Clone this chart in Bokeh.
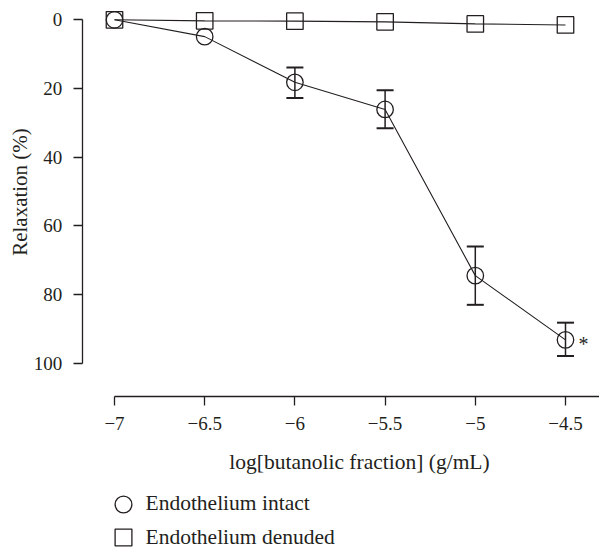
from bokeh.plotting import figure
from bokeh.models import (Range1d, FixedTicker, Whisker, TeeHead, ColumnDataSource,
                          Legend, LegendItem, Label)
from bokeh.core.properties import value
from bokeh.embed import file_html
from bokeh.resources import INLINE

# ---- data ----
log_conc = [-7.0, -6.5, -6.0, -5.5, -5.0, -4.5]
intact = [0.0, 4.9, 18.2, 26.1, 74.5, 93.2]
err_x = [-6.0, -5.5, -5.0, -4.5]
err_top = [13.9, 20.5, 66.0, 88.2]
err_bottom = [22.8, 31.6, 83.0, 97.9]
denuded = [0.0, 0.3, 0.4, 0.6, 1.2, 1.5]
x_ticks = [-7, -6.5, -6, -5.5, -5, -4.5]
x_tick_labels = ["−7", "−6.5", "−6", "−5.5", "−5", "−4.5"]
y_ticks = [0, 20, 40, 60, 80, 100]
series_names = ["Endothelium intact", "Endothelium denuded"]
significance = ["*"]
x_title = "log[butanolic fraction] (g/mL)"
y_title = "Relaxation (%)"

FONT = "Liberation Serif"
INK = "#231f20"
W, H = 599, 547

# the frame fills the whole canvas; the axes are pinned inside it
p = figure(width=W, height=H, output_backend="svg", toolbar_location=None,
           x_range=Range1d(-7.6319, -4.3115), y_range=Range1d(153.67, -5.62),
           min_border=0)
p.outline_line_color = None
p.xgrid.visible = False
p.ygrid.visible = False

for ax in (p.xaxis[0], p.yaxis[0]):
    ax.axis_line_color = INK
    ax.axis_line_width = 1.3
    ax.major_tick_line_color = INK
    ax.major_tick_line_width = 1.3
    ax.major_tick_out = 9
    ax.major_tick_in = 0
    ax.minor_tick_line_color = None
    ax.major_label_text_font = FONT
    ax.major_label_text_font_size = "19px"
    ax.major_label_text_color = INK

p.xaxis.ticker = FixedTicker(ticks=x_ticks)
p.xaxis.major_label_overrides = dict(zip(x_ticks, x_tick_labels))
p.xaxis.bounds = (x_ticks[0], -4.3115)
p.xaxis.fixed_location = 109.6
p.xaxis.major_label_standoff = 12

p.yaxis.ticker = FixedTicker(ticks=y_ticks)
p.yaxis.bounds = (y_ticks[0], y_ticks[-1])
p.yaxis.fixed_location = -7.179
p.yaxis.major_label_standoff = 11

# axis titles
p.add_layout(Label(x=19.5, y=H - 191.5, x_units="screen", y_units="screen",
                   text=y_title, angle=90, angle_units="deg",
                   text_align="center", text_baseline="middle",
                   text_font=FONT, text_font_size="21px", text_color=INK))
p.add_layout(Label(x=359, y=H - 461.7, x_units="screen", y_units="screen",
                   text=x_title, text_align="center", text_baseline="alphabetic",
                   text_font=FONT, text_font_size="21.5px", text_color=INK))

# error bars
src_err = ColumnDataSource(dict(x=err_x, top=err_top, bottom=err_bottom))
p.add_layout(Whisker(source=src_err, base="x", upper="top", lower="bottom",
                     line_color=INK, line_width=1.5,
                     upper_head=TeeHead(size=17, line_width=2, line_color=INK),
                     lower_head=TeeHead(size=17, line_width=2, line_color=INK)))

p.line(log_conc, intact, line_color=INK, line_width=1.1)
p.line(log_conc, denuded, line_color=INK, line_width=1.1)
r_int = p.scatter(log_conc, intact, marker="circle", size=16.5, fill_color=None,
                  line_color=INK, line_width=1.3)
r_den = p.scatter(log_conc, denuded, marker="square", size=16.5, fill_color=None,
                  line_color=INK, line_width=1.3)

p.text(x=[log_conc[-1]], y=[intact[-1]], text=significance, x_offset=13, y_offset=4,
       text_align="left", text_baseline="alphabetic", text_font=value(FONT),
       text_font_size="20px", text_color=INK)

def make_legend(label, rend, top):
    return Legend(items=[LegendItem(label=label, renderers=[rend])],
                  location=(101.5, H - 42 - top),
                  border_line_color=None, background_fill_alpha=0, padding=0, margin=0,
                  spacing=0, glyph_width=42, glyph_height=42, label_standoff=2,
                  label_text_font=FONT, label_text_font_size="21.5px",
                  label_text_color=INK)

p.add_layout(make_legend(series_names[0], r_int, 482.7))
p.add_layout(make_legend(series_names[1], r_den, 516.0))

open("out.html", "w").write(file_html(p, INLINE))
